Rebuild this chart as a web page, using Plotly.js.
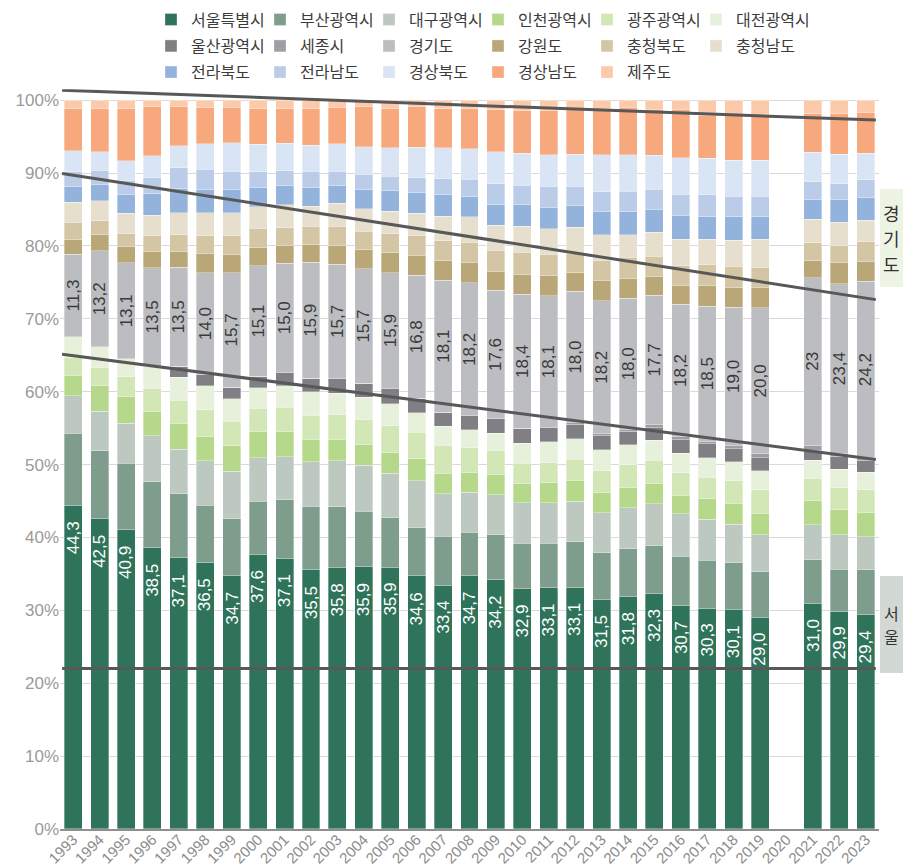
<!DOCTYPE html>
<html><head><meta charset="utf-8">
<script src="https://cdn.plot.ly/plotly-3.0.1.min.js"></script>
<style>html,body{margin:0;padding:0;background:#fff}#chart{width:907px;height:868px}</style>
</head><body><div id="chart"></div>
<script>
const years = ['1993','1994','1995','1996','1997','1998','1999','2000','2001','2002','2003','2004','2005','2006','2007','2008','2009','2010','2011','2012','2013','2014','2015','2016','2017','2018','2019','2020','2021','2022','2023'];

const regions = ['서울특별시','부산광역시','대구광역시','인천광역시','광주광역시','대전광역시','울산광역시','세종시','경기도','강원도','충청북도','충청남도','전라북도','전라남도','경상북도','경상남도','제주도'];
const colors = ['#2f735a','#7f9d8c','#bcc8c0','#b5d88b','#d3e6b6','#e7f0da','#808084','#9e9fa3','#bcbdc1','#b9a778','#d4c6a4','#e6dfcd','#93b3dd','#bbcce9','#d9e5f4','#f7a87c','#fbcaaa'];

const seoul    = [44.3,42.5,40.9,38.5,37.1,36.5,34.7,37.6,37.1,35.5,35.8,35.9,35.9,34.6,33.4,34.7,34.2,32.9,33.1,33.1,31.5,31.8,32.3,30.7,30.3,30.1,29.0,null,31.0,29.9,29.4];
const busan    = [9.9,9.3,9.1,9.1,8.75,7.9,7.8,7.3,7.95,8.6,8.3,7.55,6.75,6.6,6.7,5.95,6.2,6.25,6.1,6.3,6.4,6.55,6.55,6.85,6.55,6.4,6.25,null,5.95,5.8,6.15];
const daegu    = [5.1,5.4,5.5,6.3,6.15,6.1,6.5,5.9,5.9,6.1,6.3,6.3,6.1,6.4,5.85,5.5,5.45,5.55,5.5,5.6,5.5,5.65,5.8,5.8,5.6,5.25,5.05,null,4.8,4.7,4.55];
const incheon  = [2.8,3.5,3.6,3.3,3.55,3.3,3.5,3.6,3.45,3.1,2.95,2.9,2.85,3.0,2.8,2.7,2.8,2.6,2.75,2.85,2.75,2.75,2.75,2.6,2.85,2.85,2.95,null,3.3,3.45,3.3];
const gwangju  = [2.5,2.5,2.7,3.2,3.1,3.7,3.3,3.2,3.35,3.3,3.35,3.3,3.65,3.65,3.8,3.4,3.3,2.85,2.75,2.9,3.0,3.1,3.2,3.1,2.95,3.1,3.2,null,3.1,3.05,3.1];
const daejeon  = [2.8,2.8,2.5,3.0,3.2,3.3,3.1,2.8,2.95,3.2,3.0,3.1,3.05,2.65,2.6,2.5,2.35,2.75,2.85,2.8,2.85,2.75,2.75,2.65,2.65,2.6,2.6,null,2.5,2.5,2.4];
const ulsan    = [0,0,0,0,1.5,1.5,1.6,1.6,1.8,1.8,1.95,1.9,2.05,2.0,1.95,1.9,2.0,2.0,1.95,2.0,1.95,1.85,1.75,1.9,1.9,1.8,1.75,null,1.35,1.85,1.7];
const sejong   = [0,0,0,0,0,0,0,0,0,0,0,0,0,0,0,0,0,0,0,0.2,0.3,0.25,0.45,0.4,0.4,0.4,0.55,null,0.7,0.3,0.3];
const gyeonggi = [11.3,13.2,13.1,13.5,13.5,14.0,15.7,15.1,15.0,15.9,15.7,15.7,15.9,16.8,18.1,18.2,17.6,18.4,18.1,18.0,18.2,18.0,17.7,18.2,18.5,19.0,20.0,null,23,23.4,24.2];
const gangwon  = [2.0,2.2,2.3,2.2,2.15,2.56,2.5,2.5,2.45,2.4,2.6,2.6,2.7,2.75,2.65,2.85,2.65,2.65,2.7,2.6,2.85,2.65,2.65,2.65,2.9,2.75,2.85,null,2.3,2.9,2.75];
const chungbuk = [2.4,1.9,1.7,2.2,2.3,2.5,2.5,2.65,2.4,2.5,2.6,2.55,2.65,2.75,2.75,2.75,2.85,3.1,2.95,2.55,2.75,2.95,2.7,2.65,2.75,2.85,2.75,null,2.5,2.35,2.65];
const chungnam = [2.7,2.75,2.8,2.8,3.05,3.15,3.2,2.95,3.1,2.75,3.1,3.05,3.1,3.0,3.35,3.45,3.45,3.6,3.55,3.65,3.45,3.1,3.35,3.65,3.55,3.55,3.8,null,3.2,3.15,3.0];
const jeonbuk  = [2.2,2.15,2.5,2.9,3.25,3.25,3.15,2.6,2.65,2.5,2.4,2.65,2.75,2.8,3.0,2.75,2.9,3.0,2.95,3.05,3.2,3.15,3.1,3.3,3.15,3.2,3.05,null,2.65,3.1,3.05];
const jeonnam  = [2.0,2.0,2.0,2.25,2.9,2.74,2.5,2.2,2.0,2.3,2.0,2.05,2.0,2.05,2.15,2.4,2.75,2.6,2.85,2.6,2.75,2.8,2.8,2.9,2.9,2.85,2.85,null,2.5,2.2,2.45];
const gyeongbuk= [2.9,2.5,2.65,3.0,3.0,3.5,3.95,3.75,3.8,3.55,3.8,3.75,3.95,4.15,4.25,4.2,4.45,4.35,4.35,4.4,5.05,5.0,4.65,5.0,5.0,4.95,4.95,null,4.05,4.05,3.65];
const gyeongnam= [5.7,5.9,7.1,6.7,5.35,4.95,4.8,4.85,4.7,5.0,4.95,5.5,5.35,5.55,5.35,5.5,5.7,5.85,6.0,6.05,6.05,6.45,6.3,6.7,5.95,6.3,6.3,null,5.25,5.55,5.55];
const jeju     = [1.2,1.2,1.2,0.9,0.9,1.0,1.0,1.2,1.2,1.15,1.0,0.9,1.15,0.9,1.15,1.15,1.35,1.45,1.45,1.35,1.45,1.0,1.25,1.25,2.05,1.9,1.9,null,1.9,1.9,1.75];

const seoulLabels    = ['44,3','42,5','40,9','38,5','37,1','36,5','34,7','37,6','37,1','35,5','35,8','35,9','35,9','34,6','33,4','34,7','34,2','32,9','33,1','33,1','31,5','31,8','32,3','30,7','30,3','30,1','29,0','','31,0','29,9','29,4'];
const gyeonggiLabels = ['11,3','13,2','13,1','13,5','13,5','14,0','15,7','15,1','15,0','15,9','15,7','15,7','15,9','16,8','18,1','18,2','17,6','18,4','18,1','18,0','18,2','18,0','17,7','18,2','18,5','19,0','20,0','','23','23,4','24,2'];
const yTickVals = [0,10,20,30,40,50,60,70,80,90,100];
const yTickText = ['0%','10%','20%','30%','40%','50%','60%','70%','80%','90%','100%'];

// side tags
const sideTags = [
  {text: '경기도', fill: '#eef4e3', yTop: 87.8, yBottom: 74.35, size: 18, step: 3.5},
  {text: '서울',   fill: '#d2d8d3', yTop: 34.7, yBottom: 21.4,  size: 16, step: 3.1}
];

// trend lines (category index / percent)
const trendX0 = -0.42, trendX1 = 30.38;
const trendY0 = [101.37, 89.95, 65.13, 22.02];
const trendY1 = [97.26, 72.63, 50.69, 22.02];

const series = [seoul,busan,daegu,incheon,gwangju,daejeon,ulsan,sejong,gyeonggi,gangwon,chungbuk,chungnam,jeonbuk,jeonnam,gyeongbuk,gyeongnam,jeju];
const legendOf = i => i < 6 ? 'legend' : (i < 12 ? 'legend2' : 'legend3');
const lastInRow = i => i === 5 || i === 11 || i === 16;

const numFont = 'Liberation Sans, Arial, sans-serif';
const krFont = 'Noto Sans CJK KR, Noto Sans, sans-serif';

const traces = series.map((vals, i) => {
  const t = {
    type: 'bar', name: regions[i], x: years, y: vals,
    marker: {color: colors[i], line: {color: 'rgba(255,255,255,0.55)', width: 0.6}},
    legend: legendOf(i), hoverinfo: 'x+y+name', textposition: 'none'
  };
  if (lastInRow(i)) t.legendwidth = 90;
  if (regions[i] === '경기도') {
    t.text = gyeonggiLabels;
    t.textposition = 'inside';
    t.insidetextanchor = 'middle';
    t.textangle = -90;
    t.constraintext = 'none';
    t.textfont = {color: '#3a3a3a', size: 17, family: numFont};
  }
  return t;
});

const shapes = trendY0.map((y0, k) => ({
  type: 'line', xref: 'x', yref: 'y', x0: trendX0, x1: trendX1, y0: y0, y1: trendY1[k],
  line: {color: '#585858', width: 3}
}));

const tagX0 = 1.0012, tagX1 = 1.0293;
const annotations = [];
years.forEach((yr, i) => {
  if (seoul[i] == null) return;
  annotations.push({
    x: i, y: seoul[i], xref: 'x', yref: 'y', text: seoulLabels[i], showarrow: false,
    textangle: -90, yanchor: 'middle', xanchor: 'center', yshift: -32,
    font: {color: '#ffffff', size: 17, family: numFont}
  });
});
sideTags.forEach(tag => {
  shapes.push({type: 'rect', xref: 'paper', yref: 'y', x0: tagX0, x1: tagX1, y0: tag.yBottom, y1: tag.yTop,
    fillcolor: tag.fill, line: {width: 0}, layer: 'above'});
  const chars = Array.from(tag.text);
  const mid = (tag.yTop + tag.yBottom) / 2;
  chars.forEach((ch, k) => {
    annotations.push({
      xref: 'paper', yref: 'y', x: (tagX0 + tagX1) / 2, y: mid + ((chars.length - 1) / 2 - k) * tag.step,
      text: ch, showarrow: false, xanchor: 'center', yanchor: 'middle',
      font: {color: '#333333', size: tag.size, family: krFont}
    });
  });
});

const legendBase = {
  orientation: 'h', xref: 'container', yref: 'container', x: 0.1665, xanchor: 'left', yanchor: 'middle',
  entrywidth: 64, entrywidthmode: 'pixels', traceorder: 'normal', bgcolor: 'rgba(0,0,0,0)',
  font: {family: krFont, size: 16, color: '#3c3c3c'}
};

const layout = {
  width: 907, height: 868,
  margin: {l: 60, r: 28, t: 85, b: 39},
  paper_bgcolor: '#ffffff', plot_bgcolor: '#ffffff',
  barmode: 'stack', barnorm: 'percent', bargap: 0.32,
  font: {family: numFont},
  xaxis: {
    type: 'category', tickangle: -45, automargin: false, ticklabelstandoff: -6,
    tickfont: {size: 15, color: '#8c8c8c', family: numFont},
    showline: true, linecolor: '#8f8f8f', linewidth: 2, ticks: '', showgrid: false
  },
  yaxis: {
    range: [0, 101.5], automargin: false,
    tickmode: 'array', tickvals: yTickVals, ticktext: yTickText,
    tickfont: {size: 17, color: '#9a9a9a', family: numFont},
    gridcolor: '#d9d9d9', gridwidth: 1, zeroline: false, showline: false, ticks: ''
  },
  legend: Object.assign({}, legendBase, {y: 0.9775}),
  legend2: Object.assign({}, legendBase, {y: 0.9470}),
  legend3: Object.assign({}, legendBase, {y: 0.9168}),
  shapes: shapes,
  annotations: annotations
};

Plotly.newPlot('chart', traces, layout, {displayModeBar: false, staticPlot: true});
</script></body></html>
